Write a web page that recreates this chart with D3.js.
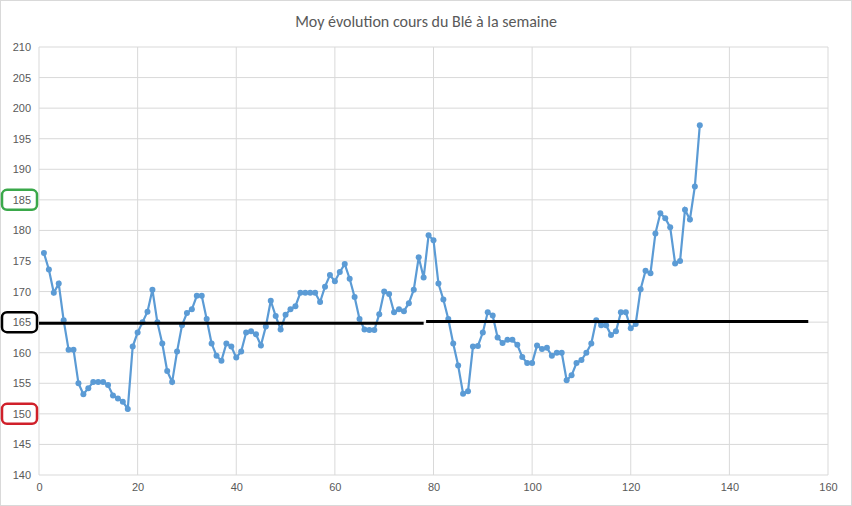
<!DOCTYPE html>
<html><head><meta charset="utf-8">
<script src="https://cdn.jsdelivr.net/npm/d3@7"></script>
<style>body{margin:0;background:#fff}svg{font-family:Calibri,"Open Sans",Arial,sans-serif}</style>
</head><body><svg id="c" width="852" height="506"></svg>
<script>
const title = "Moy évolution cours du Blé à la semaine";
const values = [176.3,173.6,169.8,171.3,165.3,160.5,160.5,155,153.2,154.2,155.2,155.2,155.2,154.7,153,152.5,152,150.8,161,163.3,165,166.7,170.3,165,161.5,157,155.2,160.2,164.5,166.5,167.1,169.3,169.3,165.5,161.5,159.5,158.7,161.5,161,159.2,160.2,163.3,163.5,163,161.2,164.3,168.5,166,163.8,166.2,167.1,167.6,169.8,169.8,169.8,169.8,168.3,170.8,172.7,171.7,173.2,174.5,172.1,169.1,165.5,163.8,163.7,163.7,166.3,170,169.6,166.6,167.1,166.8,168.1,170.3,175.6,172.3,179.2,178.4,171.3,168.7,165.5,161.5,157.9,153.3,153.7,161,161.1,163.3,166.6,166.1,162.5,161.6,162.1,162.1,161.3,159.3,158.3,158.3,161.2,160.6,160.8,159.5,160,160,155.5,156.3,158.3,158.8,160,161.5,165.3,164.5,164.5,162.9,163.5,166.6,166.6,164,164.7,170.4,173.4,173,179.5,182.8,182,180.5,174.6,175,183.4,181.8,187.2,197.2];
const refSegments = [[[0,164.8],[78,164.8]],[[78.5,165.1],[156,165.1]]];
const xTicks = [0,20,40,60,80,100,120,140,160];
const yTicks = [140,145,150,155,160,165,170,175,180,185,190,195,200,205,210];
const boxed = [{v:185,c:"#3aa84a"},{v:165,c:"#000"},{v:150,c:"#d0202a"}];

const svg = d3.select("#c");
svg.append("rect").attr("x",0.5).attr("y",0.5).attr("width",851).attr("height",505).attr("fill","#fff").attr("stroke","#d9d9d9");
const L=39,R=828,T=47,B=475;
const x=d3.scaleLinear().domain([0,160]).range([L,R]);
const y=d3.scaleLinear().domain([140,210]).range([B,T]);
const g=svg.append("g");
g.selectAll(".hg").data(yTicks).join("line").attr("x1",L).attr("x2",R).attr("y1",d=>y(d)).attr("y2",d=>y(d)).attr("stroke","#d9d9d9");
g.selectAll(".vg").data(xTicks).join("line").attr("y1",T).attr("y2",B).attr("x1",d=>x(d)).attr("x2",d=>x(d)).attr("stroke","#d9d9d9");
const ya=svg.append("g").attr("transform",`translate(${L},0)`).call(d3.axisLeft(y).tickValues(yTicks).tickSize(0).tickPadding(8));
const xa=svg.append("g").attr("transform",`translate(0,${B})`).call(d3.axisBottom(x).tickValues(xTicks).tickSize(0).tickPadding(8));
[ya,xa].forEach(a=>{a.select(".domain").remove();a.selectAll("text").attr("fill","#595959").attr("font-size",11);});
svg.append("text").attr("x",426).attr("y",27).attr("text-anchor","middle").attr("font-size",16).attr("fill","#595959").text(title);
const line=d3.line().x((d,i)=>x(i+1)).y(d=>y(d));
svg.append("path").datum(values).attr("d",line).attr("fill","none").attr("stroke","#5b9bd5").attr("stroke-width",2.2);
svg.selectAll(".pt").data(values).join("circle").attr("cx",(d,i)=>x(i+1)).attr("cy",d=>y(d)).attr("r",3).attr("fill","#5b9bd5");
refSegments.forEach(s=>svg.append("line").attr("x1",x(s[0][0])).attr("y1",y(s[0][1])).attr("x2",x(s[1][0])).attr("y2",y(s[1][1])).attr("stroke","#000").attr("stroke-width",3));
boxed.forEach(b=>svg.append("rect").attr("x",2).attr("y",y(b.v)-10).attr("width",35).attr("height",20).attr("rx",5).attr("fill","none").attr("stroke",b.c).attr("stroke-width",2.5));
</script></body></html>
